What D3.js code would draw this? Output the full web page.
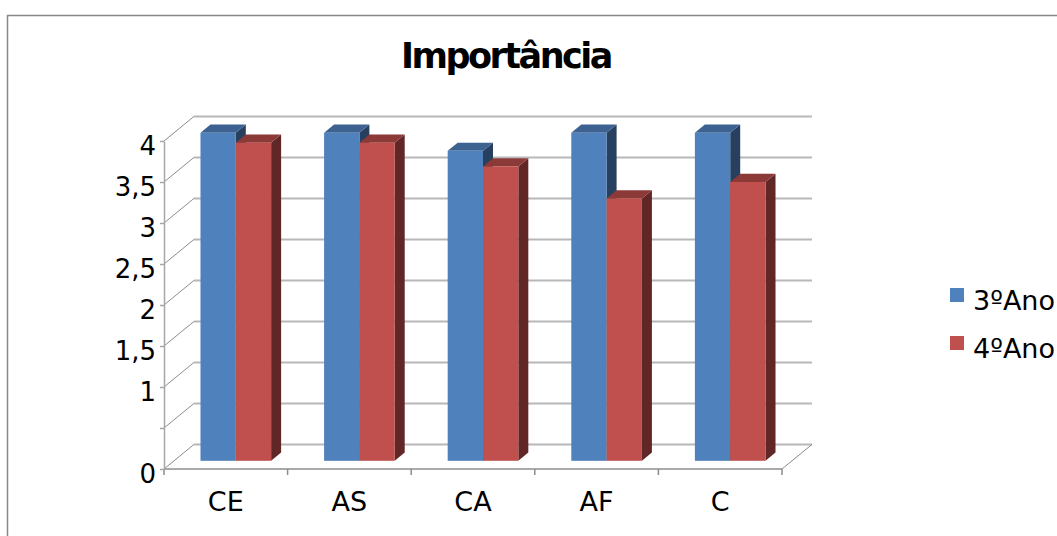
<!DOCTYPE html>
<html>
<head>
<meta charset="utf-8">
<script src="https://cdn.jsdelivr.net/npm/d3@7"></script>
<style>
  body { margin: 0; background: #fff; }
  text { font-family: "DejaVu Sans", sans-serif; fill: #000; }
</style>
</head>
<body>
<script>
// data
const categories = ["CE", "AS", "CA", "AF", "C"];
const seriesNames = ["3ºAno", "4ºAno"];
const ano3 = [4, 4, 3.78, 4, 4];
const ano4 = [3.88, 3.88, 3.59, 3.2, 3.4];
const yTicks = [0, 0.5, 1, 1.5, 2, 2.5, 3, 3.5, 4];
const yTickLabels = ["0", "", "1", "1,5", "2", "2,5", "3", "3,5", "4"];

const W = 1057, H = 536;
const colors = {
  "3ºAno": { front: "#4f81bd", top: "#3d6291", side: "#28405f" },
  "4ºAno": { front: "#c0504d", top: "#8c3a38", side: "#612727" }
};

const svg = d3.select("body").append("svg")
  .attr("width", W)
  .attr("height", H);

// chart border (right/bottom run off the picture)
svg.append("rect")
  .attr("x", 7.5).attr("y", 15.5)
  .attr("width", 1200).attr("height", 700)
  .attr("fill", "none")
  .attr("stroke", "#888")
  .attr("stroke-width", 1.5);

svg.append("text")
  .attr("x", 506).attr("y", 68)
  .attr("text-anchor", "middle")
  .style("font-size", "35px")
  .style("font-weight", "bold")
  .style("letter-spacing", "-2.5px")
  .text("Importância");

// scales on the front plane
const x = d3.scaleBand().domain(categories).range([164, 782]);
const xs = d3.scaleBand().domain(seriesNames).range([0, x.bandwidth()]).paddingOuter(0.75);
const y = d3.scaleLinear().domain([0, 4]).range([469, 141]);
// depth: 0 = front plane, 1 = back wall
const depthX = d3.scaleLinear().domain([0, 1]).range([0, 30]);
const depthY = d3.scaleLinear().domain([0, 1]).range([0, -24.6]);
const P = (px, py, d) => [px + depthX(d), py + depthY(d)];

const x0 = x.range()[0], x1 = x.range()[1];

// back wall gridlines
const walls = svg.append("g");
walls.selectAll(".grid")
  .data(yTicks)
  .enter().append("line")
  .attr("x1", P(x0, 0, 1)[0])
  .attr("x2", P(x1, 0, 1)[0])
  .attr("y1", d => P(0, y(d), 1)[1])
  .attr("y2", d => P(0, y(d), 1)[1])
  .attr("stroke", "#b8b8b8")
  .attr("stroke-width", 2);

// side wall diagonals
walls.selectAll(".diag")
  .data(yTicks)
  .enter().append("line")
  .attr("x1", x0).attr("y1", d => y(d))
  .attr("x2", P(x0, 0, 1)[0]).attr("y2", d => P(0, y(d), 1)[1])
  .attr("stroke", "#8c8c8c")
  .attr("stroke-width", 1);

// floor front edge and right edge
walls.append("line")
  .attr("x1", x0).attr("x2", x1)
  .attr("y1", y(0)).attr("y2", y(0))
  .attr("stroke", "#8c8c8c").attr("stroke-width", 1.5);
walls.append("line")
  .attr("x1", x1).attr("y1", y(0))
  .attr("x2", P(x1, y(0), 1)[0]).attr("y2", P(x1, y(0), 1)[1])
  .attr("stroke", "#8c8c8c").attr("stroke-width", 1);

// category ticks at band edges
walls.selectAll(".ctick")
  .data(categories.map(c => x(c)).concat([x1]))
  .enter().append("line")
  .attr("x1", d => d).attr("x2", d => d)
  .attr("y1", y(0)).attr("y2", y(0) + 6)
  .attr("stroke", "#8c8c8c").attr("stroke-width", 1.5);

// bars
const table = [];
categories.forEach((c, i) => {
  table.push({ cat: c, s: seriesNames[0], v: ano3[i] });
  table.push({ cat: c, s: seriesNames[1], v: ano4[i] });
});

const d0 = 1 / 3, d1 = 2 / 3;
const bars = svg.append("g").selectAll(".bar")
  .data(table)
  .enter().append("g")
  .attr("class", "bar");

bars.append("polygon")
  .attr("fill", d => colors[d.s].side)
  .attr("points", d => {
    const bx = x(d.cat) + xs(d.s) + xs.bandwidth();
    return [P(bx, y(d.v), d0), P(bx, y(d.v), d1), P(bx, y(0), d1), P(bx, y(0), d0)].join(" ");
  });
bars.append("polygon")
  .attr("fill", d => colors[d.s].top)
  .attr("points", d => {
    const bx = x(d.cat) + xs(d.s);
    const ex = bx + xs.bandwidth();
    return [P(bx, y(d.v), d0), P(bx, y(d.v), d1), P(ex, y(d.v), d1), P(ex, y(d.v), d0)].join(" ");
  });
bars.append("rect")
  .attr("fill", d => colors[d.s].front)
  .attr("x", d => P(x(d.cat) + xs(d.s), 0, d0)[0])
  .attr("y", d => P(0, y(d.v), d0)[1])
  .attr("width", xs.bandwidth())
  .attr("height", d => y(0) - y(d.v));

// y axis on the front plane
const yAxis = svg.append("g")
  .attr("transform", `translate(${x0},0)`)
  .call(d3.axisLeft(y).tickValues(yTicks).tickFormat((d, i) => yTickLabels[i]).tickSize(4).tickSizeOuter(0).tickPadding(4));
yAxis.select(".domain").attr("stroke", "#a6a6a6").attr("stroke-width", 1.5);
yAxis.selectAll(".tick line").attr("stroke", "#a6a6a6").attr("stroke-width", 1.5);
yAxis.selectAll(".tick text")
  .attr("dy", "0.52em")
  .style("font-size", "26px")
  .style("font-family", "DejaVu Sans, sans-serif")
  .attr("fill", "#000");

// category labels
const xAxis = svg.append("g")
  .attr("transform", `translate(0,${y(0)})`)
  .call(d3.axisBottom(x).tickSize(0).tickPadding(23));
xAxis.select(".domain").remove();
xAxis.selectAll(".tick text")
  .style("font-size", "27px")
  .style("font-family", "DejaVu Sans, sans-serif")
  .attr("fill", "#000");

// legend
const legend = svg.append("g").selectAll(".leg")
  .data(seriesNames)
  .enter().append("g")
  .attr("transform", (d, i) => `translate(950,${288 + i * 48})`);
legend.append("rect")
  .attr("width", 14).attr("height", 14)
  .attr("fill", d => colors[d].front);
legend.append("text")
  .attr("x", 23).attr("y", 22)
  .style("font-size", "27px")
  .text(d => d);
</script>
</body>
</html>
